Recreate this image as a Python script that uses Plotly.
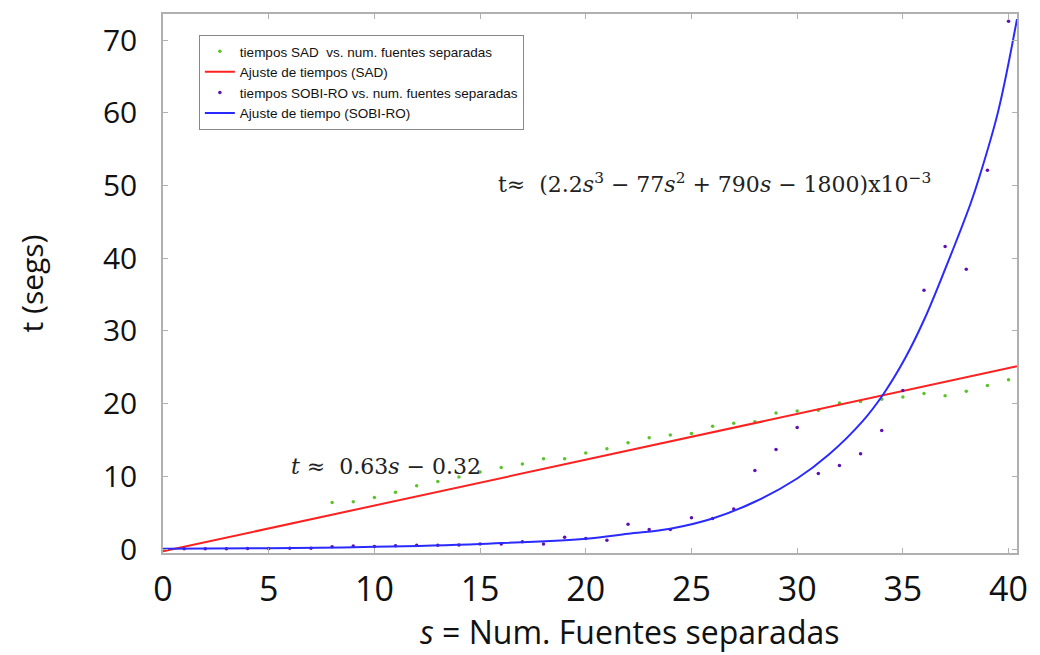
import numpy as np
import plotly.graph_objects as go

# Tiempos medidos con SAD (s = 8..40)
s_sad = list(range(8, 41))
t_sad = [6.4, 6.5, 7.1, 7.8, 8.7, 9.3, 9.9, 10.6, 11.2, 11.7, 12.4, 12.4, 13.2,
         13.8, 14.6, 15.3, 15.7, 15.9, 16.9, 17.3, 17.5, 18.7, 19.0, 19.1, 20.1,
         20.3, 20.6, 20.9, 21.4, 21.1, 21.7, 22.5, 23.3]

# Tiempos medidos con SOBI-RO (s = 1..40)
s_sobi = list(range(1, 41))
t_sobi = [0.05, 0.05, 0.05, 0.06, 0.08, 0.1, 0.12, 0.3, 0.4, 0.35,
          0.45, 0.5, 0.5, 0.55, 0.7, 0.7, 1.0, 0.7, 1.6, 1.45,
          1.2, 3.4, 2.7, 2.7, 4.3, 4.2, 5.5, 10.8, 13.7, 16.7,
          10.4, 11.5, 13.1, 16.3, 21.8, 35.6, 41.6, 38.5, 52.1, 72.6]

# Curva de ajuste SOBI-RO
s_fit_sobi = [0, 5, 10, 15, 20, 22, 24, 26, 28, 30, 31.5, 33.1, 34.1, 35.1,
              36.0, 37.0, 38.2, 38.6, 39.5, 40.4]
t_fit_sobi = [0.05, 0.1, 0.3, 0.7, 1.4, 2.1, 2.8, 4.2, 6.5, 9.7, 13.0, 17.6,
              21.4, 26.2, 31.5, 38.5, 47.5, 51.0, 60.1, 72.9]

# Ajuste lineal SAD: t = 0.63 s - 0.32
sad_slope, sad_intercept = 0.63, -0.32
s_fit_sad = np.linspace(0, 40.4, 50)
t_fit_sad = sad_slope * s_fit_sad + sad_intercept

x_ticks = [0, 5, 10, 15, 20, 25, 30, 35, 40]
y_ticks = [0, 10, 20, 30, 40, 50, 60, 70]

fig = go.Figure()
fig.add_trace(go.Scatter(x=s_sad, y=t_sad, mode="markers",
                         marker=dict(color="#5cc22c", size=3.5),
                         name="tiempos SAD\u00a0 vs. num. fuentes separadas"))
fig.add_trace(go.Scatter(x=s_fit_sad, y=t_fit_sad, mode="lines",
                         line=dict(color="#ff2020", width=2),
                         name="Ajuste de tiempos (SAD)"))
fig.add_trace(go.Scatter(x=s_sobi, y=t_sobi, mode="markers",
                         marker=dict(color="#6010b0", size=3.5),
                         name="tiempos SOBI-RO vs. num. fuentes separadas"))
fig.add_trace(go.Scatter(x=s_fit_sobi, y=t_fit_sobi, mode="lines",
                         line=dict(color="#2a2aff", width=2, shape="spline", smoothing=1.0),
                         name="Ajuste de tiempo (SOBI-RO)"))

axis_common = dict(showline=True, linecolor="#b0b0b0", linewidth=1.5, mirror="ticks",
                   ticks="inside", ticklen=5, tickcolor="#b0b0b0", showgrid=False,
                   zeroline=False)

fig.update_xaxes(range=[0, 40.4], tickvals=x_ticks, **axis_common,
                 tickfont=dict(family="Open Sans", size=34, color="#111"),
                 ticklabelstandoff=5)
fig.update_yaxes(range=[-0.55, 73.6], tickvals=y_ticks, **axis_common,
                 tickfont=dict(family="Open Sans", size=30, color="#111"),
                 ticklabelstandoff=18,
                 title=dict(text="t (segs)", standoff=50,
                            font=dict(family="Open Sans", size=30, color="#111")))

# Título del eje x
fig.add_annotation(x=0.547, y=-0.146, xref="paper", yref="paper", showarrow=False,
                   xanchor="center", yanchor="middle",
                   text="<i>s</i> = Num. Fuentes separadas",
                   font=dict(family="Open Sans", size=32, color="#111"))

# Ecuaciones de ajuste
fig.add_annotation(x=0.147, y=0.161, xref="paper", yref="paper", showarrow=False,
                   xanchor="left", yanchor="middle",
                   text="<i>t</i> \u2248  0.63<i>s</i> \u2212 0.32",
                   font=dict(family="DejaVu Serif", size=22, color="#222"))
fig.add_annotation(x=0.39, y=0.686, xref="paper", yref="paper", showarrow=False,
                   xanchor="left", yanchor="middle",
                   text="t\u2248  (2.2<i>s</i><sup>3</sup> \u2212 77<i>s</i><sup>2</sup> + 790<i>s</i> \u2212 1800)x10<sup>\u22123</sup>",
                   font=dict(family="DejaVu Serif", size=22, color="#222"))

fig.update_layout(
    width=1040, height=655,
    margin=dict(l=163, r=14, t=12, b=102),
    paper_bgcolor="white", plot_bgcolor="white",
    showlegend=True,
    legend=dict(x=0.042, y=0.961, xanchor="left", yanchor="top",
                bgcolor="white", bordercolor="#888", borderwidth=1,
                font=dict(family="Liberation Sans, Arial", size=13.5, color="#111"),
                itemwidth=30, tracegroupgap=0),
)

fig.write_html("out.html")
